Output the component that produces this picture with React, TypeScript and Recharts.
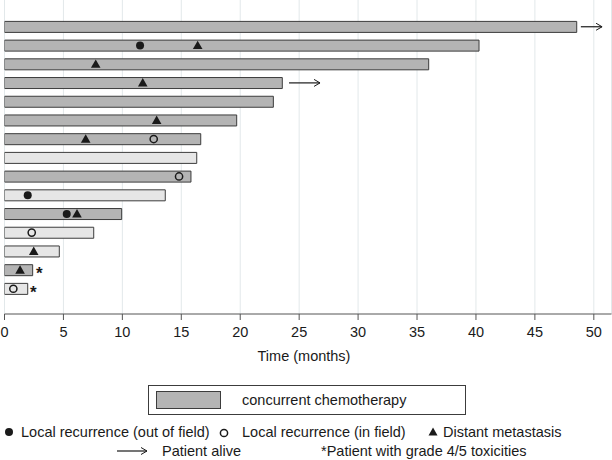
import React from 'react';
import {
  ComposedChart,
  Bar,
  Cell,
  XAxis,
  YAxis,
  CartesianGrid,
  ReferenceDot,
  ReferenceLine,
} from 'recharts';

const patients = ['P1', 'P2', 'P3', 'P4', 'P5', 'P6', 'P7', 'P8', 'P9', 'P10', 'P11', 'P12', 'P13', 'P14', 'P15'];
const months = [48.55, 40.26, 35.99, 23.57, 22.81, 19.7, 16.65, 16.31, 15.82, 13.64, 9.94, 7.57, 4.65, 2.39, 1.97];
const concurrentChemo = [true, true, true, true, true, true, true, false, true, false, true, false, false, true, false];

const outOfField = [
  { id: 'P2', t: 11.5 },
  { id: 'P10', t: 1.97 },
  { id: 'P11', t: 5.28 },
];
const inField = [
  { id: 'P7', t: 12.66 },
  { id: 'P9', t: 14.81 },
  { id: 'P12', t: 2.31 },
  { id: 'P15', t: 0.75 },
];
const distant = [
  { id: 'P2', t: 16.39 },
  { id: 'P3', t: 7.74 },
  { id: 'P4', t: 11.73 },
  { id: 'P6', t: 12.91 },
  { id: 'P7', t: 6.89 },
  { id: 'P11', t: 6.15 },
  { id: 'P13', t: 2.48 },
  { id: 'P14', t: 1.32 },
];
const alive = [
  { id: 'P1', from: 48.9, to: 50.7 },
  { id: 'P4', from: 24.14, to: 26.77 },
];
const toxicity = [
  { id: 'P14', t: 2.95 },
  { id: 'P15', t: 2.44 },
];
const xTicks = [0, 5, 10, 15, 20, 25, 30, 35, 40, 45, 50];

const data = patients.map((id, i) => ({ id, months: months[i], chemo: concurrentChemo[i] }));

const DARK = '#b4b4b4';
const LIGHT = '#e6e6e6';
const EDGE = '#3c3c3c';
const INK = '#1a1a1a';
const FONT = '"Liberation Sans", Arial, Helvetica, sans-serif';
const FS = 14.5;

const FilledDot = (p: any) => <circle cx={p.cx} cy={p.cy} r={4} fill={INK} />;
const OpenDot = (p: any) => (
  <circle cx={p.cx} cy={p.cy} r={3.6} fill="none" stroke={INK} strokeWidth={1.5} />
);
const Tri = (p: any) => (
  <path d={`M${p.cx},${p.cy - 4.8} L${p.cx + 4.8},${p.cy + 3.6} L${p.cx - 4.8},${p.cy + 3.6} Z`} fill={INK} />
);
const Star = (p: any) => (
  <text
    x={p.cx}
    y={p.cy + 9}
    textAnchor="middle"
    fontSize={17}
    fontWeight="bold"
    fill={INK}
    fontFamily={FONT}
  >
    *
  </text>
);
const Arrow = (p: any) => {
  const { x1, y1, x2, y2 } = p;
  return (
    <g>
      <line x1={x1} y1={y1} x2={x2} y2={y2} stroke={INK} strokeWidth={1.2} />
      <path d={`M${x2 - 6},${y2 - 3.5} L${x2},${y2} L${x2 - 6},${y2 + 3.5}`} fill="none" stroke={INK} strokeWidth={1} />
    </g>
  );
};

const LegendOverlay = () => {
  const y2 = 432;
  const y3 = 451;
  const txt = { fontFamily: FONT, fontSize: FS, fill: INK, dominantBaseline: 'central' as const };
  return (
    <svg
      width={612}
      height={460}
      style={{ position: 'absolute', left: 0, top: 0, pointerEvents: 'none' }}
    >
      <rect x={148.5} y={385.5} width={317} height={29} fill="#fff" stroke={EDGE} strokeWidth={1} />
      <rect x={156.5} y={391.5} width={64} height={17} fill={DARK} stroke={EDGE} strokeWidth={1} />
      <text x={242} y={400} {...txt}>concurrent chemotherapy</text>

      <circle cx={9} cy={y2} r={4} fill={INK} />
      <text x={21} y={y2} {...txt}>Local recurrence (out of field)</text>
      <circle cx={224} cy={y2 + 1} r={3.6} fill="none" stroke={INK} strokeWidth={1.5} />
      <text x={242} y={y2} {...txt}>Local recurrence (in field)</text>
      <path d={`M433,${y2 - 4.5} L437.5,${y2 + 3.5} L428.5,${y2 + 3.5} Z`} fill={INK} />
      <text x={443} y={y2} {...txt}>Distant metastasis</text>

      <line x1={117} y1={y3} x2={147} y2={y3} stroke={INK} strokeWidth={1.2} />
      <path d={`M141,${y3 - 3.5} L147,${y3} L141,${y3 + 3.5}`} fill="none" stroke={INK} strokeWidth={1} />
      <text x={162} y={y3} {...txt}>Patient alive</text>
      <text x={321} y={y3} {...txt}>*Patient with grade 4/5 toxicities</text>
    </svg>
  );
};

export default function App() {
  return (
    <div style={{ position: 'absolute', left: 0, top: 0, width: 612, height: 460, background: '#fff' }}>
      <ComposedChart
        width={612}
        height={460}
        data={data}
        layout="vertical"
        margin={{ top: 0, right: 0.5, left: 4.5, bottom: 116 }}
      >
        <CartesianGrid vertical horizontal={false} stroke="#e2e8ea" strokeWidth={1} />
        <XAxis
          type="number"
          domain={[0, 51.5]}
          ticks={xTicks}
          allowDataOverflow
          height={30}
          tickSize={6}
          tickMargin={7}
          stroke="#555"
          tick={{ fill: INK, fontSize: FS, fontFamily: FONT }}
          tickLine={{ stroke: '#555' }}
          axisLine={{ stroke: '#555' }}
          label={{
            value: 'Time (months)',
            position: 'bottom',
            offset: 7,
            dx: -4,
            fill: INK,
            fontSize: FS,
            fontFamily: FONT,
          }}
        />
        <YAxis type="category" dataKey="id" hide padding={{ top: 17.4, bottom: 15.9 }} />
        <Bar dataKey="months" barSize={11} stroke={EDGE} strokeWidth={1} isAnimationActive={false}>
          {data.map((d) => (
            <Cell key={d.id} fill={d.chemo ? DARK : LIGHT} />
          ))}
        </Bar>
        {outOfField.map((m, i) => (
          <ReferenceDot key={`o${i}`} x={m.t} y={m.id} shape={FilledDot} ifOverflow="visible" />
        ))}
        {inField.map((m, i) => (
          <ReferenceDot key={`i${i}`} x={m.t} y={m.id} shape={OpenDot} ifOverflow="visible" />
        ))}
        {distant.map((m, i) => (
          <ReferenceDot key={`d${i}`} x={m.t} y={m.id} shape={Tri} ifOverflow="visible" />
        ))}
        {toxicity.map((m, i) => (
          <ReferenceDot key={`s${i}`} x={m.t} y={m.id} shape={Star} ifOverflow="visible" />
        ))}
        {alive.map((a, i) => (
          <ReferenceLine
            key={`a${i}`}
            segment={[
              { x: a.from, y: a.id },
              { x: a.to, y: a.id },
            ]}
            shape={Arrow}
            ifOverflow="visible"
          />
        ))}
      </ComposedChart>
      <LegendOverlay />
    </div>
  );
}
